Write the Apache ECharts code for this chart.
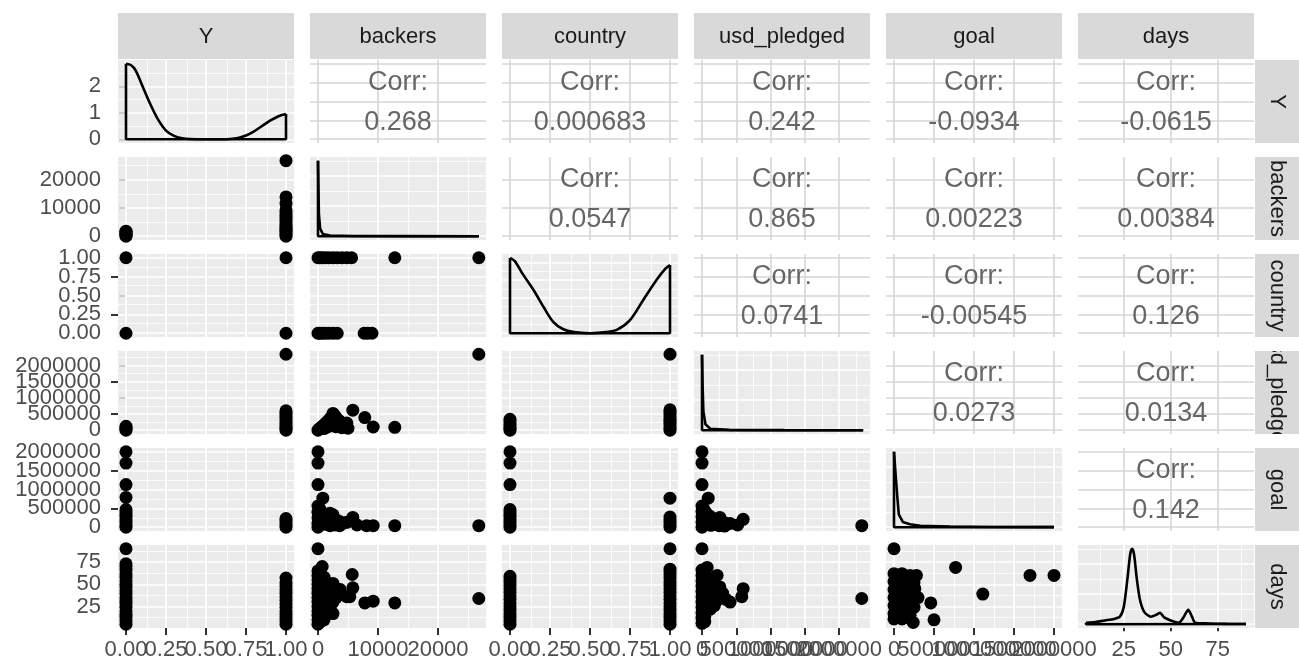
<!DOCTYPE html>
<html>
<head>
<meta charset="utf-8">
<script src="https://cdn.jsdelivr.net/npm/echarts@6/dist/echarts.min.js"></script>
<style>
  html, body { margin: 0; padding: 0; background: #fff; }
  #chart { width: 1299px; height: 664px; }
</style>
</head>
<body>
<div id="chart"></div>
<script>
// variables of the pairs plot, in panel order
const variables = ["Y", "backers", "country", "usd_pledged", "goal", "days"];

// axis ranges per variable (data range + 5% either side) and breaks
const axisMin = [-0.05, -1333, -0.05, -117000, -100000, 0.75];
const axisMax = [1.05, 28000, 1.05, 2450000, 2100000, 94.25];
const majorBreaks = [
  [0, 0.25, 0.5, 0.75, 1],
  [0, 10000, 20000],
  [0, 0.25, 0.5, 0.75, 1],
  [0, 500000, 1000000, 1500000, 2000000],
  [0, 500000, 1000000, 1500000, 2000000],
  [25, 50, 75]
];
const minorBreaks = [
  [0.125, 0.375, 0.625, 0.875],
  [5000, 15000, 25000],
  [0.125, 0.375, 0.625, 0.875],
  [250000, 750000, 1250000, 1750000, 2250000],
  [250000, 750000, 1250000, 1750000],
  [12.5, 37.5, 62.5, 87.5]
];
// the same tick labels, split over stacked axes so ECharts keeps overlapping ones
const xLabelGroups = [
  [[0, 0.5, 1], [0.25, 0.75]],
  [[0, 20000], [10000]],
  [[0, 0.5, 1], [0.25, 0.75]],
  [[0, 1500000], [500000, 2000000], [1000000]],
  [[0, 1500000], [500000, 2000000], [1000000]],
  [[25, 50, 75]]
];
const yLabelGroups = [
  [[0, 1, 2]],
  [[0, 10000, 20000]],
  [[0, 0.5, 1], [0.25, 0.75]],
  [[0, 1000000, 2000000], [500000, 1500000]],
  [[0, 1000000, 2000000], [500000, 1500000]],
  [[25, 50, 75]]
];

// density (diagonal) y scales
const densMin = [-0.14, -0.05, -0.107, -0.05, -0.05, -0.05];
const densMax = [2.99, 1.05, 2.24, 1.05, 1.05, 1.05];
const densMajor = [[0, 1, 2], [0, 0.4, 0.8], [0, 0.5, 1, 1.5, 2], [0, 0.4, 0.8], [0, 0.4, 0.8], [0, 0.4, 0.8]];
const densMinor = [[0.5, 1.5, 2.5], [0.2, 0.6, 1.0], [0.25, 0.75, 1.25, 1.75], [0.2, 0.6, 1.0], [0.2, 0.6, 1.0], [0.2, 0.6, 1.0]];

// correlations, upper triangle read row by row
const corrValues = ["0.268", "0.000683", "0.242", "-0.0934", "-0.0615",
  "0.0547", "0.865", "0.00223", "0.00384",
  "0.0741", "-0.00545", "0.126",
  "0.0273", "0.0134",
  "0.142"];

// density curves [x, density]
const densityY = [[0, 2.85], [0.03, 2.8], [0.06, 2.6], [0.1, 2.05], [0.15, 1.35], [0.2, 0.75], [0.25, 0.33], [0.3, 0.13], [0.35, 0.04], [0.4, 0.01], [0.5, 0], [0.6, 0], [0.65, 0.01], [0.7, 0.05], [0.75, 0.14], [0.8, 0.3], [0.85, 0.5], [0.9, 0.7], [0.95, 0.86], [1, 0.95]];
const densityBackers = [[0, 1], [60, 0.7], [150, 0.3], [350, 0.1], [800, 0.03], [2000, 0.01], [6000, 0.003], [15000, 0.001], [26800, 0]];
const densityCountry = [[0, 2.13], [0.03, 2.04], [0.08, 1.67], [0.15, 1.2], [0.21, 0.74], [0.27, 0.32], [0.33, 0.12], [0.4, 0.03], [0.5, 0], [0.6, 0.03], [0.67, 0.1], [0.75, 0.37], [0.83, 0.92], [0.92, 1.53], [0.97, 1.82], [1, 1.93]];
const densityUsd = [[0, 1], [8000, 0.6], [20000, 0.25], [50000, 0.08], [120000, 0.02], [400000, 0.005], [1200000, 0.001], [2350000, 0]];
const densityGoal = [[0, 1], [20000, 0.7], [40000, 0.42], [60000, 0.17], [110000, 0.07], [200000, 0.04], [330000, 0.02], [700000, 0.008], [1200000, 0.004], [2000000, 0.002]];
const densityDays = [[5, 0.02], [10, 0.03], [15, 0.05], [20, 0.07], [23, 0.1], [25, 0.22], [27, 0.6], [28.5, 0.93], [29.5, 1], [30.5, 0.93], [32, 0.6], [33.7, 0.32], [36, 0.16], [39.5, 0.1], [42, 0.12], [44.3, 0.15], [46.5, 0.09], [50, 0.05], [54.4, 0.02], [57, 0.1], [59.3, 0.19], [61.3, 0.1], [63, 0.02], [70, 0.01], [80, 0.005], [90, 0.003]];

// scatter panels [column variable, row variable]
const backersByY = [[0, 0], [0, 300], [0, 700], [0, 1100], [0, 1500], [0, 1800],
  [1, 0], [1, 500], [1, 1100], [1, 1800], [1, 2500], [1, 3200], [1, 4000], [1, 4800], [1, 5600], [1, 6400], [1, 7300], [1, 8200], [1, 9300], [1, 11600], [1, 13900], [1, 26700]];
const countryByY = [[0, 0], [0, 1], [1, 0], [1, 1]];
const usdByY = [[0, 0], [0, 40000], [0, 80000], [0, 120000],
  [1, 0], [1, 60000], [1, 120000], [1, 190000], [1, 260000], [1, 330000], [1, 400000], [1, 470000], [1, 540000], [1, 600000], [1, 2350000]];
const goalByY = [[0, 0], [0, 60000], [0, 130000], [0, 200000], [0, 270000], [0, 340000], [0, 410000], [0, 470000], [0, 790000], [0, 1130000], [0, 1700000], [0, 2000000],
  [1, 0], [1, 60000], [1, 120000], [1, 180000], [1, 230000]];
const daysByY = [[0, 5], [0, 9], [0, 13], [0, 16], [0, 20], [0, 24], [0, 28], [0, 31], [0, 35], [0, 39], [0, 43], [0, 47], [0, 50], [0, 54], [0, 58], [0, 62], [0, 66], [0, 70], [0, 73], [0, 90],
  [1, 5], [1, 9], [1, 12], [1, 16], [1, 20], [1, 24], [1, 28], [1, 32], [1, 36], [1, 40], [1, 44], [1, 48], [1, 52], [1, 57]];

const countryByBackers = [[0, 1], [300, 1], [700, 1], [1200, 1], [1800, 1], [2500, 1], [3200, 1], [4000, 1], [4800, 1], [5600, 1], [12800, 1], [26800, 1],
  [0, 0], [300, 0], [700, 0], [1200, 0], [1800, 0], [2500, 0], [3200, 0], [7700, 0], [8300, 0], [9000, 0]];
const usdByBackers = [[0, 0], [200, 40000], [500, 90000], [900, 150000], [1300, 220000], [1700, 300000], [2100, 380000], [2500, 520000], [2800, 450000], [3100, 370000], [3500, 300000], [3900, 240000], [4300, 190000], [4800, 220000],
  [1000, 50000], [2000, 130000], [3000, 110000], [4000, 80000], [5000, 60000], [1500, 100000], [2500, 250000], [3500, 150000], [2000, 300000],
  [5800, 620000], [7800, 390000], [9200, 100000], [12800, 90000], [26800, 2350000]];
const goalByBackers = [[0, 2000000], [0, 1700000], [0, 1130000], [800, 770000], [0, 560000], [0, 400000], [0, 250000], [0, 100000], [0, 0],
  [300, 480000], [600, 400000], [1000, 330000], [1500, 280000], [2000, 370000], [2500, 330000], [3000, 200000], [3600, 150000], [4200, 110000], [4800, 130000],
  [500, 150000], [1200, 80000], [2000, 40000], [2800, 60000], [3600, 40000], [1000, 200000], [2000, 180000], [600, 280000],
  [5800, 260000], [6500, 60000], [8100, 40000], [9200, 40000], [12800, 40000], [26800, 40000]];
const daysByBackers = [[0, 90], [700, 70], [0, 65], [0, 60], [0, 55], [0, 50], [0, 45], [0, 40], [0, 35], [0, 30], [0, 25], [0, 20], [0, 15], [0, 10], [0, 5],
  [400, 62], [400, 56], [400, 50], [400, 44], [400, 38], [400, 32], [400, 26], [400, 20], [400, 14], [400, 8],
  [1000, 58], [1500, 52], [2500, 51], [3700, 44], [4800, 36], [2000, 24], [2500, 17],
  [1500, 30], [3000, 35], [1200, 42], [2200, 40], [1000, 20], [1000, 10], [1000, 30], [1500, 38], [2000, 46], [3000, 42], [3500, 38], [2500, 30],
  [5700, 61], [5800, 46], [5300, 36], [7800, 29], [9200, 31], [12800, 29], [26800, 34]];

const usdByCountry = [[0, 0], [0, 60000], [0, 130000], [0, 200000], [0, 270000], [0, 340000],
  [1, 0], [1, 70000], [1, 140000], [1, 210000], [1, 280000], [1, 350000], [1, 420000], [1, 490000], [1, 560000], [1, 630000], [1, 2350000]];
const goalByCountry = [[0, 0], [0, 60000], [0, 130000], [0, 200000], [0, 270000], [0, 340000], [0, 410000], [0, 470000], [0, 1130000], [0, 1700000], [0, 2000000],
  [1, 0], [1, 60000], [1, 130000], [1, 200000], [1, 270000], [1, 770000]];
const daysByCountry = [[0, 5], [0, 9], [0, 13], [0, 17], [0, 21], [0, 25], [0, 29], [0, 33], [0, 37], [0, 41], [0, 45], [0, 49], [0, 53], [0, 56], [0, 59],
  [1, 5], [1, 9], [1, 13], [1, 17], [1, 21], [1, 25], [1, 29], [1, 33], [1, 37], [1, 41], [1, 45], [1, 49], [1, 53], [1, 57], [1, 61], [1, 64], [1, 67], [1, 90]];

const goalByUsd = [[0, 2000000], [0, 1700000], [0, 1130000], [90000, 770000], [0, 560000], [0, 420000], [0, 280000], [0, 140000], [0, 0],
  [30000, 470000], [60000, 380000], [110000, 300000], [160000, 230000], [200000, 160000], [260000, 260000], [330000, 120000], [410000, 100000], [520000, 60000], [600000, 210000],
  [60000, 100000], [130000, 50000], [250000, 40000], [100000, 180000], [60000, 240000], [200000, 80000], [330000, 30000],
  [2330000, 40000]];
const daysByUsd = [[0, 90], [0, 66], [0, 60], [0, 54], [0, 48], [0, 42], [0, 36], [0, 30], [0, 24], [0, 18], [0, 12], [0, 6],
  [40000, 62], [40000, 56], [40000, 50], [40000, 44], [40000, 38], [40000, 32], [40000, 26], [40000, 20], [40000, 14], [40000, 8],
  [75000, 69], [220000, 60], [110000, 55], [150000, 50], [200000, 44], [260000, 47], [300000, 40],
  [150000, 36], [220000, 32], [350000, 33], [410000, 30], [120000, 22], [180000, 26], [100000, 40], [100000, 30], [150000, 42],
  [600000, 45], [580000, 36], [2330000, 34]];

const daysByGoal = [[0, 90], [0, 62], [0, 53], [0, 44], [0, 35], [0, 26], [0, 17], [0, 11],
  [100000, 62], [100000, 53], [100000, 44], [100000, 35], [100000, 26], [100000, 17], [100000, 11],
  [200000, 60], [200000, 51], [200000, 42], [200000, 33], [200000, 24], [200000, 15],
  [50000, 57], [50000, 48], [50000, 39], [50000, 30], [50000, 21], [50000, 13],
  [150000, 57], [150000, 48], [150000, 39], [150000, 30], [150000, 21], [150000, 13],
  [250000, 52], [250000, 38], [250000, 24],
  [280000, 60], [260000, 45], [300000, 35],
  [460000, 29], [240000, 7], [500000, 10], [770000, 69], [1110000, 39], [1700000, 60], [2000000, 60]];

// panel layout
const FONT = '"Liberation Sans", Arial, sans-serif';
const LEFT = [118, 310, 502, 694, 886, 1078];
const TOP = [60, 157, 254, 351, 448, 545];
const PW = 176, PH = 83;
const STRIP_TOP = 13, STRIP_H = 46, STRIP_LEFT = 1255, STRIP_W = 44;

const scatterPanels = {
  "1,0": backersByY, "2,0": countryByY, "3,0": usdByY, "4,0": goalByY, "5,0": daysByY,
  "2,1": countryByBackers, "3,1": usdByBackers, "4,1": goalByBackers, "5,1": daysByBackers,
  "3,2": usdByCountry, "4,2": goalByCountry, "5,2": daysByCountry,
  "4,3": goalByUsd, "5,3": daysByUsd,
  "5,4": daysByGoal
};
const densities = [densityY, densityBackers, densityCountry, densityUsd, densityGoal, densityDays];
const smoothDensity = [0.3, false, 0.3, false, false, 0.25];

const fmtFor = i => (i === 0 || i === 2) ? v => v.toFixed(2) : v => String(v);

const MAJOR_WHITE = { color: "#ffffff", width: 1.7, type: "solid" };
const MINOR_WHITE = { color: "#ffffff", width: 0.8, type: "solid" };
const MAJOR_GREY = { color: "#d6d6d6", width: 1.6, type: "solid" };
const TICK_STYLE = { color: "#333333", width: 2 };

const grid = [], xAxis = [], yAxis = [], series = [], graphic = [];
let corrIdx = 0;

// one value axis; labels/ticks only where `values` is given
function makeAxis(k, position, min, max, values, formatter, margin) {
  const show = !!values;
  return {
    gridIndex: k, type: "value", position, offset: 0, min, max,
    axisLine: { show: false },
    splitLine: { show: false },
    axisTick: { show, customValues: values || [], length: 7, lineStyle: TICK_STYLE },
    axisLabel: {
      show, customValues: values || [], formatter, margin,
      showMinLabel: true, showMaxLabel: true, hideOverlap: false,
      color: "#4d4d4d", fontSize: 22, fontFamily: FONT
    }
  };
}

for (let r = 0; r < 6; r++) {
  for (let c = 0; c < 6; c++) {
    const k = r * 6 + c;
    const kind = r === c ? "diag" : (r > c ? "scatter" : "corr");
    const yMin = kind === "diag" ? densMin[r] : axisMin[r];
    const yMax = kind === "diag" ? densMax[r] : axisMax[r];
    const yMajor = kind === "diag" ? densMajor[r] : majorBreaks[r];
    const yMinor = kind === "diag" ? densMinor[r] : minorBreaks[r];
    const yFmt = kind === "diag" ? v => String(v) : fmtFor(r);

    grid.push({
      left: LEFT[c], top: TOP[r], width: PW, height: PH,
      show: true, borderWidth: 0,
      backgroundColor: kind === "corr" ? "#ffffff" : "#ebebeb",
      outerBoundsMode: "none"
    });

    // primary axes carry the data; extra stacked axes only hold labels
    const xi = xAxis.length, yi = yAxis.length;
    if (r === 5) {
      xLabelGroups[c].forEach(g => xAxis.push(makeAxis(k, "bottom", axisMin[c], axisMax[c], g, fmtFor(c), 11)));
    } else {
      xAxis.push(makeAxis(k, "bottom", axisMin[c], axisMax[c], null, null, 11));
    }
    if (c === 0) {
      yLabelGroups[r].forEach(g => yAxis.push(makeAxis(k, "left", yMin, yMax, g, yFmt, 17)));
    } else {
      yAxis.push(makeAxis(k, "left", yMin, yMax, null, null, 17));
    }

    // panel grid lines
    const lines = [];
    if (kind === "corr") {
      majorBreaks[c].forEach(v => lines.push({ xAxis: v, lineStyle: MAJOR_GREY }));
      yMajor.forEach(v => lines.push({ yAxis: v, lineStyle: MAJOR_GREY }));
    } else {
      minorBreaks[c].forEach(v => lines.push({ xAxis: v, lineStyle: MINOR_WHITE }));
      yMinor.forEach(v => lines.push({ yAxis: v, lineStyle: MINOR_WHITE }));
      majorBreaks[c].forEach(v => lines.push({ xAxis: v, lineStyle: MAJOR_WHITE }));
      yMajor.forEach(v => lines.push({ yAxis: v, lineStyle: MAJOR_WHITE }));
    }
    series.push({
      type: "line", xAxisIndex: xi, yAxisIndex: yi, data: [], silent: true,
      markLine: { silent: true, z: 1, symbol: ["none", "none"], label: { show: false }, emphasis: { disabled: true }, animation: false, data: lines }
    });

    if (kind === "scatter") {
      series.push({
        type: "scatter", xAxisIndex: xi, yAxisIndex: yi, data: scatterPanels[r + "," + c],
        symbol: "circle", symbolSize: 13, itemStyle: { color: "#000000", opacity: 1 }, z: 3, silent: true
      });
    } else if (kind === "diag") {
      const dens = densities[r];
      const first = dens[0], last = dens[dens.length - 1];
      series.push({
        type: "line", xAxisIndex: xi, yAxisIndex: yi, data: dens, smooth: smoothDensity[r],
        symbol: "none", lineStyle: { color: "#000000", width: 2.6 }, z: 3, silent: true
      });
      series.push({
        type: "line", xAxisIndex: xi, yAxisIndex: yi,
        data: [[last[0], last[1]], [last[0], 0], [first[0], 0], [first[0], first[1]]],
        symbol: "none", lineStyle: { color: "#000000", width: 2.6 }, z: 3, silent: true
      });
    } else {
      graphic.push({
        type: "text", x: LEFT[c] + PW / 2, y: TOP[r] + PH / 2 + 1, z: 5, silent: true,
        style: {
          text: "Corr:\n" + corrValues[corrIdx++], fill: "#666666",
          font: "27px " + FONT, align: "center", verticalAlign: "middle",
          textAlign: "center", textVerticalAlign: "middle", lineHeight: 40
        }
      });
    }
  }
}

// facet strips: top (columns) and right (rows)
variables.forEach((name, i) => {
  graphic.push({
    type: "rect", z: 2, silent: true,
    shape: { x: LEFT[i], y: STRIP_TOP, width: PW, height: STRIP_H },
    style: { fill: "#d9d9d9" }
  });
  graphic.push({
    type: "text", x: LEFT[i] + PW / 2, y: STRIP_TOP + STRIP_H / 2 + 1, z: 3, silent: true,
    style: { text: name, fill: "#1a1a1a", font: "22px " + FONT, align: "center", verticalAlign: "middle", textAlign: "center", textVerticalAlign: "middle" }
  });
  // long labels sit under their neighbours so they look clipped to their strip
  const under = name.length > 8;
  graphic.push({
    type: "rect", z: under ? 10 : 12, silent: true,
    shape: { x: STRIP_LEFT, y: TOP[i], width: STRIP_W, height: PH },
    style: { fill: "#d9d9d9" }
  });
  graphic.push({
    type: "text", x: STRIP_LEFT + STRIP_W / 2, y: TOP[i] + PH / 2, rotation: -Math.PI / 2, z: under ? 11 : 13, silent: true,
    style: { text: name, fill: "#1a1a1a", font: "22px " + FONT, align: "center", verticalAlign: "middle", textAlign: "center", textVerticalAlign: "middle" }
  });
  if (i < 5) {
    graphic.push({
      type: "rect", z: 12, silent: true,
      shape: { x: STRIP_LEFT, y: TOP[i] + PH, width: STRIP_W, height: TOP[i + 1] - TOP[i] - PH },
      style: { fill: "#ffffff" }
    });
  }
});

const chart = echarts.init(document.getElementById("chart"), null, { renderer: "canvas" });
chart.setOption({
  backgroundColor: "#ffffff",
  animation: false,
  grid, xAxis, yAxis, series, graphic
});
window.addEventListener("resize", () => chart.resize());
</script>
</body>
</html>
